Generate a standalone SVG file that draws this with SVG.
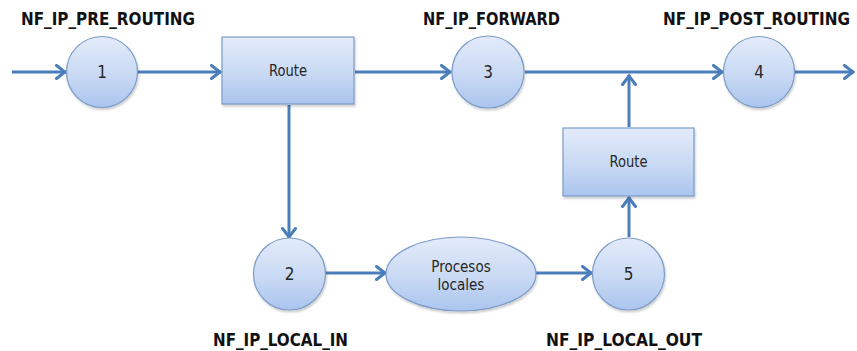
<svg xmlns="http://www.w3.org/2000/svg" width="857" height="351" viewBox="0 0 857 351">
  <defs>
    <linearGradient id="fillBlue" x1="0" y1="0" x2="0" y2="1">
      <stop offset="0" stop-color="#e3ebfa"/>
      <stop offset="0.5" stop-color="#cbdbf4"/>
      <stop offset="1" stop-color="#abc5ee"/>
    </linearGradient>
    <filter id="shade" x="-10%" y="-10%" width="125%" height="130%">
      <feDropShadow dx="1" dy="2" stdDeviation="1.2" flood-color="#000" flood-opacity="0.2"/>
    </filter>
    <marker id="arrow" viewBox="-12 -8 15 16" markerWidth="15" markerHeight="16" refX="1" refY="0" orient="auto" markerUnits="userSpaceOnUse">
      <path d="M-8.5,-6.5 L0,0 L-8.5,6.5" fill="none" stroke="#4a7ebb" stroke-width="3" stroke-linecap="round" stroke-linejoin="miter"/>
    </marker>
  </defs>
  <style>
    .shape { fill: url(#fillBlue); stroke: #7b9bc8; stroke-width: 1.2; filter: url(#shade); }
    .link { fill: none; stroke: #4a7ebb; stroke-width: 3; marker-end: url(#arrow); }
    .num { font-family: "DejaVu Sans Condensed", "DejaVu Sans", sans-serif; font-size: 17px; fill: #262626; text-anchor: middle; }
    .txt { font-family: "DejaVu Sans Condensed", "DejaVu Sans", sans-serif; font-size: 15px; fill: #262626; text-anchor: middle; }
    .hook { font-family: "DejaVu Sans Condensed", "DejaVu Sans", sans-serif; font-size: 17px; font-weight: bold; fill: #111; }
  </style>

  <!-- connectors -->
  <g id="connectors">
    <line class="link" x1="12" y1="72" x2="66" y2="72"/>
    <line class="link" x1="138" y1="72" x2="221" y2="72"/>
    <line class="link" x1="355" y1="72" x2="451" y2="72"/>
    <line class="link" x1="525" y1="72" x2="723" y2="72"/>
    <line class="link" x1="795" y1="72" x2="854" y2="72"/>
    <line class="link" x1="289" y1="105" x2="289" y2="238"/>
    <line class="link" x1="326" y1="273" x2="386" y2="273"/>
    <line class="link" x1="536" y1="273" x2="592" y2="273"/>
    <line class="link" x1="629" y1="237" x2="629" y2="197"/>
    <line class="link" x1="629" y1="127" x2="629" y2="75"/>
  </g>

  <!-- hook 1 -->
  <g id="node-1">
    <circle class="shape" cx="102" cy="72" r="35.5"/>
    <text class="num" x="102" y="78">1</text>
  </g>

  <!-- first routing decision -->
  <g id="route-in">
    <rect class="shape" x="222" y="37" width="132" height="67"/>
    <text class="txt" x="288" y="76" textLength="38" lengthAdjust="spacingAndGlyphs">Route</text>
  </g>

  <!-- hook 3 -->
  <g id="node-3">
    <circle class="shape" cx="488" cy="72" r="36"/>
    <text class="num" x="488" y="78">3</text>
  </g>

  <!-- hook 4 -->
  <g id="node-4">
    <circle class="shape" cx="759" cy="72" r="35.5"/>
    <text class="num" x="759" y="78">4</text>
  </g>

  <!-- second routing decision -->
  <g id="route-out">
    <rect class="shape" x="563" y="128" width="131" height="68"/>
    <text class="txt" x="628.5" y="167" textLength="38" lengthAdjust="spacingAndGlyphs">Route</text>
  </g>

  <!-- hook 2 -->
  <g id="node-2">
    <circle class="shape" cx="289.5" cy="274" r="36"/>
    <text class="num" x="289.5" y="280">2</text>
  </g>

  <!-- local processes -->
  <g id="local-processes">
    <ellipse class="shape" cx="461" cy="274" rx="75" ry="37"/>
    <text class="txt" x="461" y="272">Procesos</text>
    <text class="txt" x="461" y="290">locales</text>
  </g>

  <!-- hook 5 -->
  <g id="node-5">
    <circle class="shape" cx="628.5" cy="274" r="36"/>
    <text class="num" x="628.5" y="280">5</text>
  </g>

  <!-- hook names -->
  <g id="labels">
    <text class="hook" x="21" y="25" textLength="174" lengthAdjust="spacingAndGlyphs">NF_IP_PRE_ROUTING</text>
    <text class="hook" x="423" y="25" textLength="137" lengthAdjust="spacingAndGlyphs">NF_IP_FORWARD</text>
    <text class="hook" x="663" y="25" textLength="187" lengthAdjust="spacingAndGlyphs">NF_IP_POST_ROUTING</text>
    <text class="hook" x="213" y="346" textLength="135" lengthAdjust="spacingAndGlyphs">NF_IP_LOCAL_IN</text>
    <text class="hook" x="546" y="346" textLength="156" lengthAdjust="spacingAndGlyphs">NF_IP_LOCAL_OUT</text>
  </g>
</svg>
